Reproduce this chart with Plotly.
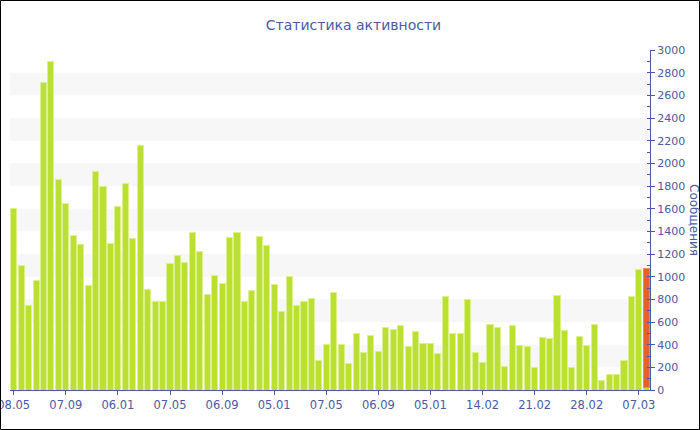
import plotly.graph_objects as go

# ---- data ----
messages = [1600, 1100, 750, 970, 2710, 2900, 1860, 1650, 1360, 1280,
            925, 1925, 1800, 1290, 1620, 1820, 1340, 2155, 885, 780,
            782, 1112, 1191, 1127, 1391, 1226, 847, 1009, 944, 1347,
            1394, 779, 874, 1353, 1276, 929, 694, 1000, 744, 785,
            809, 262, 400, 859, 403, 235, 500, 329, 482, 338,
            550, 538, 571, 382, 518, 406, 409, 318, 821, 500,
            500, 800, 329, 244, 579, 553, 203, 565, 391, 382,
            197, 465, 453, 838, 521, 200, 476, 397, 576, 88,
            135, 135, 262, 829, 1065, 20]
today_index = [85]
today_extra = [1056]
tick_labels = ["08.05", "07.09", "06.01", "07.05", "06.09", "05.01", "07.05",
               "06.09", "05.01", "14.02", "21.02", "28.02", "07.03"]

n = len(messages)
xs = list(range(n))
tick_positions = list(range(0, 7 * len(tick_labels), 7))

BLUE = "#4a5aa3"
FONT = "DejaVu Sans"

fig = go.Figure()
fig.add_trace(go.Bar(x=xs, y=messages, marker=dict(color="#bce031",
                     line=dict(color="#dcf08e", width=1)), width=0.82,
                     hoverinfo="y"))
fig.add_trace(go.Bar(x=today_index, y=today_extra, marker=dict(color="#e2622a",
                     line=dict(color="#ec8a5c", width=1)), width=0.82,
                     hoverinfo="y"))

shapes = []
for lo in range(200, 3000, 400):
    shapes.append(dict(type="rect", xref="paper", yref="y", x0=0, x1=1,
                       y0=lo, y1=lo + 200, fillcolor="#f7f7f7",
                       line=dict(width=0), layer="below"))
# outer black border
L, R, T, B = 10, 50, 50, 40
W, H = 700, 430
pw, ph = W - L - R, H - T - B
shapes.append(dict(type="rect", xref="paper", yref="paper",
                   x0=(0.5 - L) / pw, x1=(W - 0.5 - L) / pw,
                   y0=(T + ph - (H - 0.5)) / ph, y1=(T + ph - 0.5) / ph,
                   line=dict(color="black", width=1), fillcolor="rgba(0,0,0,0)"))

fig.update_layout(
    width=W, height=H,
    margin=dict(l=L, r=R, t=T, b=B, autoexpand=False),
    paper_bgcolor="white", plot_bgcolor="white",
    barmode="stack", bargap=0.18, showlegend=False,
    font=dict(family=FONT, color=BLUE),
    title=dict(text="Статистика активности", x=0.505, xanchor="center",
               xref="container", y=1 - 25 / H, yanchor="middle",
               font=dict(family=FONT, size=14, color=BLUE)),
    xaxis=dict(range=[-0.5, n - 0.5], tickmode="array",
               tickvals=tick_positions, ticktext=tick_labels,
               ticks="outside", ticklen=4, tickcolor=BLUE,
               showline=True, linecolor=BLUE, linewidth=1,
               showgrid=False, zeroline=False, automargin=False,
               tickfont=dict(family=FONT, size=11.5, color=BLUE),
               ticklabeloverflow="allow"),
    yaxis=dict(range=[0, 3000], side="right", dtick=200,
               ticks="outside", ticklen=4, tickcolor=BLUE,
               showline=True, linecolor=BLUE, linewidth=1,
               showgrid=False, zeroline=False, automargin=False,
               tickfont=dict(family=FONT, size=11, color=BLUE)),
    yaxis2=dict(range=[0, 3000], side="right", overlaying="y", anchor="x",
                dtick=100, ticks="inside", ticklen=3, tickcolor=BLUE,
                showticklabels=False, showline=False, showgrid=False,
                zeroline=False, automargin=False),
    shapes=shapes,
    annotations=[dict(text="Сообщения", xref="paper", yref="paper",
                      x=(694 - L) / pw, y=0.5, showarrow=False,
                      textangle=90, xanchor="center", yanchor="middle",
                      font=dict(family=FONT, size=12, color=BLUE))],
)
# invisible trace so the inner-tick axis renders
fig.add_trace(go.Scatter(x=[0], y=[0], yaxis="y2", mode="markers",
                         marker=dict(opacity=0), hoverinfo="skip"))

fig.write_html("out.html", config={"displayModeBar": False},
               post_script="document.body.style.margin='0';"
                           "document.body.style.padding='0';")
